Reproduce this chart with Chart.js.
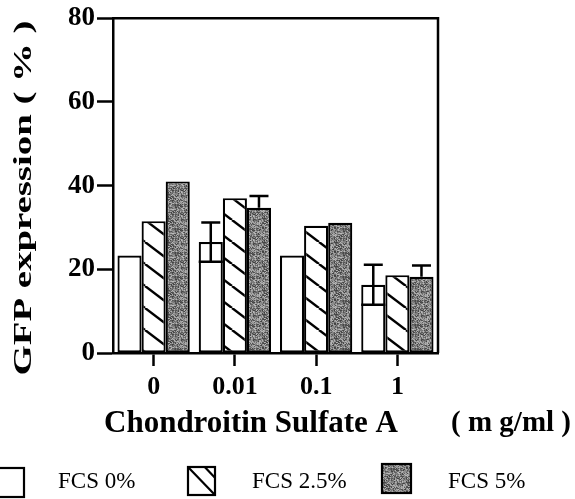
<!DOCTYPE html>
<html>
<head>
<meta charset="utf-8">
<script src="https://cdn.jsdelivr.net/npm/chart.js@4"></script>
<style>
  html, body { margin: 0; padding: 0; background: #fff; }
  #wrap { width: 575px; height: 499px; }
</style>
</head>
<body>
<div id="wrap"><canvas id="c" width="575" height="499"></canvas></div>
<script>
// ---- data ----
const categories = ['0', '0.01', '0.1', '1'];
const seriesNames = ['FCS 0%', 'FCS 2.5%', 'FCS 5%'];
const fcs0 = [23.3, 26.5, 23.3, 16.3];
const fcs25 = [31.5, 37.0, 30.4, 18.6];
const fcs5 = [41.0, 34.7, 31.1, 18.2];
const err0 = [0, 4.7, 0, 4.8];
const err5 = [0, 2.8, 0, 2.7];
const yTicks = [0, 20, 40, 60, 80];
const yTitle = 'GFP expression ( % )';
const xTitle = 'Chondroitin Sulfate A';
const xUnit = '( m g/ml )';

// ---- fill patterns ----
function hatchPattern() {
  const W = 29, H = 22;
  const c = document.createElement('canvas');
  c.width = W; c.height = H;
  const g = c.getContext('2d');
  g.fillStyle = '#fff'; g.fillRect(0, 0, W, H);
  g.strokeStyle = '#000'; g.lineWidth = 2.4;
  for (const dx of [-W, 0, W]) {
    g.beginPath(); g.moveTo(dx, 0); g.lineTo(dx + W, H); g.stroke();
  }
  return g.createPattern(c, 'repeat');
}
function stipplePattern() {
  const S = 24;
  const c = document.createElement('canvas');
  c.width = S; c.height = S;
  const g = c.getContext('2d');
  const img = g.createImageData(S, S);
  for (let j = 0; j < S; j++) {
    for (let i = 0; i < S; i++) {
      const h = Math.sin(i * 12.9898 + j * 78.233) * 43758.5453;
      const f = h - Math.floor(h);
      const v = Math.round(62 + f * 125);
      const k = (j * S + i) * 4;
      img.data[k] = v; img.data[k + 1] = v; img.data[k + 2] = v; img.data[k + 3] = 255;
    }
  }
  g.putImageData(img, 0, 0);
  return g.createPattern(c, 'repeat');
}
const hatch = hatchPattern();
const stipple = stipplePattern();

const serif = '"Liberation Serif", "Times New Roman", serif';

// ---- plugin: error bars, frame, titles, legend ----
const extras = {
  id: 'extras',
  afterDatasetsDraw(chart) {
    const ctx = chart.ctx;
    const ys = chart.scales.y;
    const errs = [err0, null, err5];
    const full = [true, false, false];
    ctx.save();
    ctx.strokeStyle = '#000';
    ctx.lineWidth = 2.5;
    errs.forEach((err, di) => {
      if (!err) return;
      const meta = chart.getDatasetMeta(di);
      const vals = chart.data.datasets[di].data;
      meta.data.forEach((bar, i) => {
        const e = err[i];
        if (!e) return;
        const x = bar.x;
        const top = ys.getPixelForValue(vals[i] + e);
        const low = ys.getPixelForValue(vals[i] - e);
        const barTop = ys.getPixelForValue(vals[i]);
        ctx.beginPath();
        ctx.moveTo(x, full[di] ? low : barTop);
        ctx.lineTo(x, top);
        ctx.moveTo(x - 9.5, top);
        ctx.lineTo(x + 9.5, top);
        if (full[di]) {
          ctx.moveTo(x - bar.width / 2, low);
          ctx.lineTo(x + bar.width / 2, low);
        }
        ctx.stroke();
      });
    });
    ctx.restore();
  },
  afterDraw(chart) {
    const ctx = chart.ctx;
    const a = chart.chartArea;
    ctx.save();
    // frame (top and right)
    ctx.strokeStyle = '#000';
    ctx.lineWidth = 2.5;
    ctx.beginPath();
    ctx.moveTo(a.left, a.top);
    ctx.lineTo(a.right, a.top);
    ctx.lineTo(a.right, a.bottom);
    ctx.stroke();

    ctx.fillStyle = '#000';
    // y title (rotated, stretched along its length)
    ctx.save();
    ctx.translate(31, 198);
    ctx.rotate(-Math.PI / 2);
    ctx.font = 'bold 25px ' + serif;
    const w = ctx.measureText(yTitle).width;
    ctx.scale(355 / w, 1);
    ctx.textAlign = 'center';
    ctx.textBaseline = 'alphabetic';
    ctx.fillText(yTitle, 0, 0);
    ctx.restore();

    // x title and unit
    ctx.font = 'bold 31px ' + serif;
    ctx.textAlign = 'center';
    ctx.textBaseline = 'middle';
    ctx.fillText(xTitle, 251, 424);
    ctx.font = 'bold 29px ' + serif;
    ctx.fillText(xUnit, 511, 424);

    // legend
    const boxes = [
      { x: -2, y: 468, w: 26, h: 29, tx: 58 },
      { x: 188, y: 467, w: 27, h: 28, tx: 252 },
      { x: 382, y: 464, w: 29, h: 29, tx: 448 }
    ];
    const fills = ['#fff', '#fff', stipple];
    ctx.lineWidth = 2.2;
    boxes.forEach((b, i) => {
      ctx.fillStyle = fills[i];
      ctx.fillRect(b.x, b.y, b.w, b.h);
      ctx.strokeStyle = '#000';
      ctx.strokeRect(b.x, b.y, b.w, b.h);
      if (i === 1) {
        ctx.beginPath();
        ctx.moveTo(b.x, b.y);
        ctx.lineTo(b.x + b.w, b.y + b.h);
        ctx.moveTo(b.x + b.w * 0.62, b.y);
        ctx.lineTo(b.x + b.w, b.y + b.h * 0.38);
        ctx.stroke();
      }
      ctx.fillStyle = '#000';
      ctx.font = '23px ' + serif;
      ctx.textAlign = 'left';
      ctx.textBaseline = 'middle';
      ctx.fillText(seriesNames[i], b.tx, 482);
    });
    ctx.restore();
  }
};

new Chart(document.getElementById('c'), {
  type: 'bar',
  data: {
    labels: categories,
    datasets: [
      { label: seriesNames[0], data: fcs0, backgroundColor: '#fff' },
      { label: seriesNames[1], data: fcs25, backgroundColor: hatch },
      { label: seriesNames[2], data: fcs5, backgroundColor: stipple }
    ].map(d => Object.assign(d, {
      borderColor: '#000', borderWidth: 2.2, borderSkipped: false,
      categoryPercentage: 0.89, barPercentage: 1.0
    }))
  },
  options: {
    responsive: false,
    animation: false,
    devicePixelRatio: 1,
    layout: { padding: { left: 0, top: 14, right: 137, bottom: 0 } },
    plugins: { legend: { display: false }, tooltip: { enabled: false } },
    scales: {
      x: {
        offset: true,
        grid: { offset: false, drawOnChartArea: false, drawTicks: true, tickLength: 13, tickColor: '#000', tickWidth: 2.5 },
        border: { display: true, color: '#000', width: 2.5 },
        ticks: { color: '#000', font: { family: serif, size: 26, weight: 'bold' }, padding: 6, maxRotation: 0 },
        afterFit(s) { s.height = 146; }
      },
      y: {
        min: 0, max: 80,
        afterBuildTicks(s) { s.ticks = yTicks.map(v => ({ value: v })); },
        grid: { drawOnChartArea: false, drawTicks: true, tickLength: 16, tickColor: '#000', tickWidth: 2.5 },
        border: { display: true, color: '#000', width: 2.5 },
        ticks: { color: '#000', font: { family: serif, size: 27, weight: 'bold' }, padding: 2 },
        afterFit(s) { s.width = 113; }
      }
    }
  },
  plugins: [extras]
});
</script>
</body>
</html>
